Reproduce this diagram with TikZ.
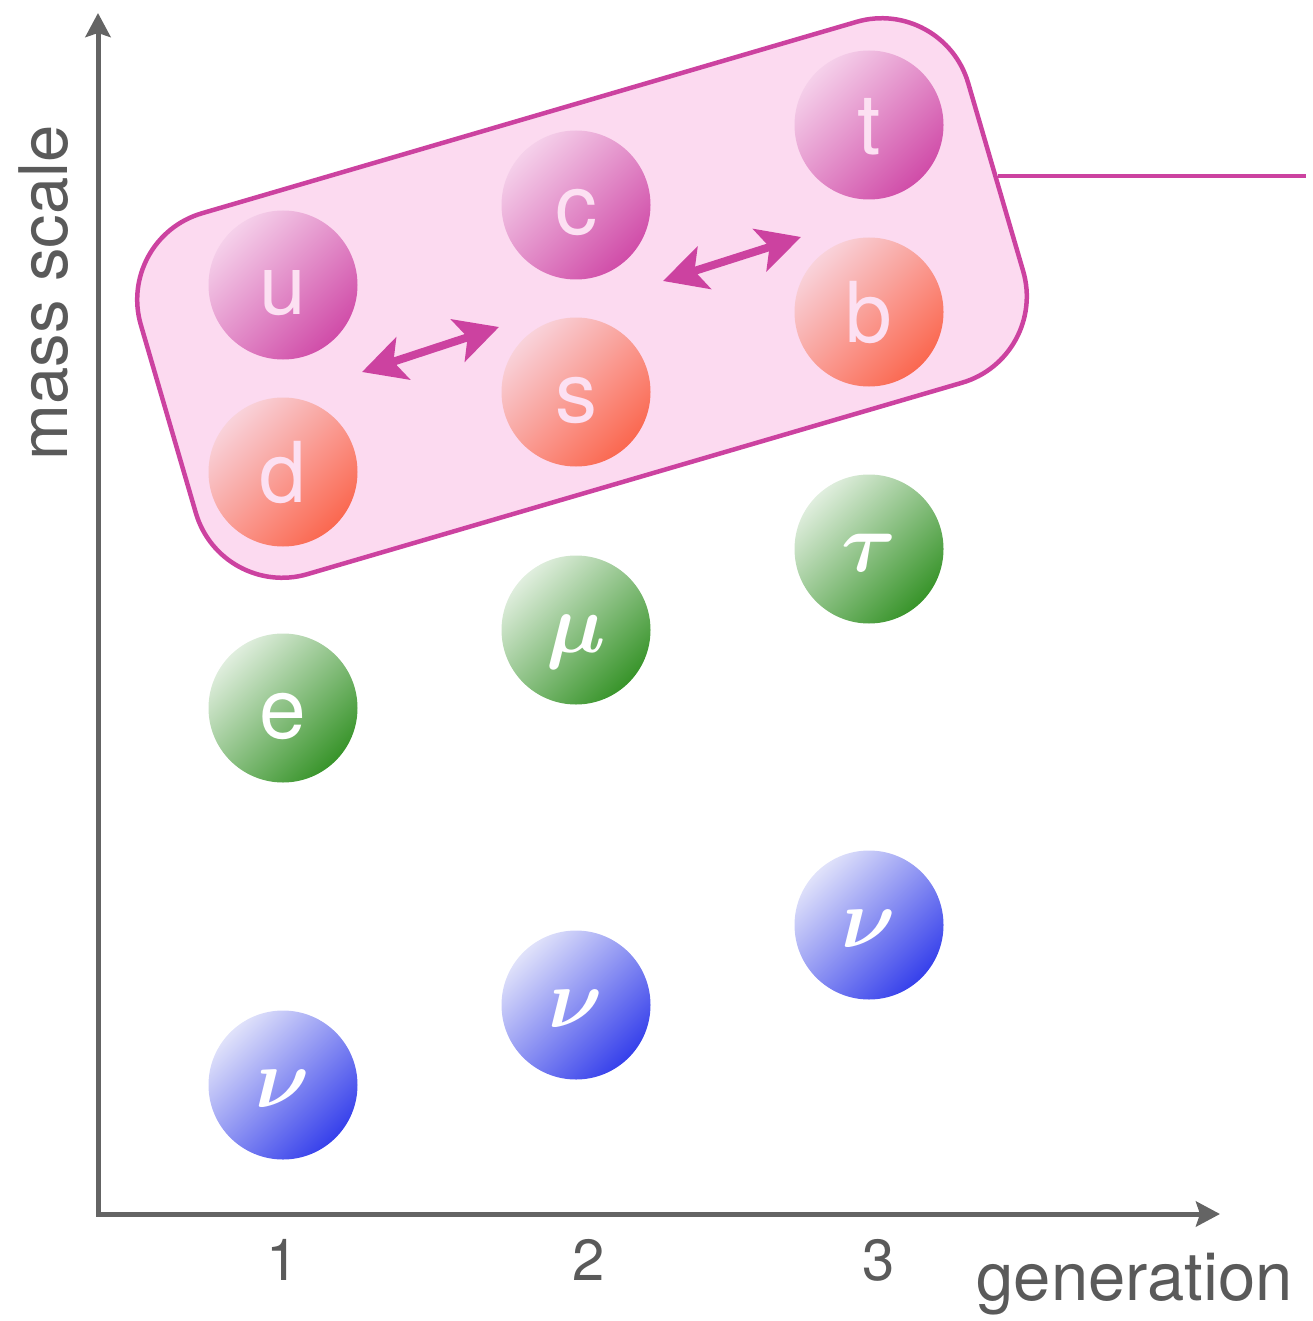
\RequirePackage{fix-cm}
\documentclass[tikz,border=0pt]{standalone}
\usepackage{fontspec}
\setmainfont{TeX Gyre Heros}
\usetikzlibrary{arrows.meta}
\definecolor{mag}{RGB}{204,66,160}
\definecolor{framefill}{RGB}{252,218,240}
\definecolor{axisgray}{RGB}{100,100,100}
\definecolor{textgray}{RGB}{90,90,90}
\definecolor{upl}{RGB}{245,208,234}
\definecolor{upd}{RGB}{208,76,168}
\definecolor{dnl}{RGB}{249,210,218}
\definecolor{dnd}{RGB}{250,104,80}
\definecolor{grl}{RGB}{224,238,222}
\definecolor{grd}{RGB}{56,148,42}
\definecolor{bll}{RGB}{224,226,250}
\definecolor{bld}{RGB}{54,64,235}
\definecolor{qtext}{RGB}{252,224,242}
\begin{document}
\begin{tikzpicture}[x=1pt,y=-1pt,
  ball/.style={circle, minimum size=149pt, inner sep=0pt, text height=60pt, text depth=0pt,
    font=\fontsize{84}{84}\selectfont},
  greek/.style={ball, text=white, text height=44pt, font=\fontsize{84}{84}\selectfont\boldmath},
  upq/.style={ball, text=qtext, top color=upl, bottom color=upd, shading angle=45},
  dnq/.style={ball, text=qtext, top color=dnl, bottom color=dnd, shading angle=45},
  lep/.style={top color=grl, bottom color=grd, shading angle=45},
  neu/.style={greek, top color=bll, bottom color=bld, shading angle=45},
  axis/.style={draw=axisgray, line width=5pt,
    {Stealth[length=24pt,width=25pt,inset=4pt]}-{Stealth[length=24pt,width=25pt,inset=4pt]}},
  dbl/.style={draw=mag, line width=8pt,
    {Stealth[length=43pt,width=44pt,inset=10pt]}-{Stealth[length=43pt,width=44pt,inset=10pt]}},
  axtext/.style={text=textgray, inner sep=0pt},
]
\useasboundingbox (0,0) rectangle (1312,1321);

% axes
\coordinate (O) at (98,1214);
\coordinate (ytip) at (98,13);
\coordinate (xtip) at (1220,1214);
\draw[axis] (ytip) -- (O) -- (xtip);

% frame around quarks
\node[draw=mag, line width=4.5pt, fill=framefill, rounded corners=90pt,
  minimum width=862pt, minimum height=376pt, rotate=16.3, inner sep=0pt] (frame) at (582,298) {};
\coordinate (rend) at (1306,0);
\draw[mag, line width=4pt] (frame.east) -- (frame.east -| rend);

% quarks
\node[upq] (u) at (283,285) {u};
\node[dnq] (d) at (283,472) {d};
\node[upq] (c) at (576,205) {c};
\node[dnq] (s) at (576,392) {s};
\node[upq] (t) at (869,125) {t};
\node[dnq] (b) at (869,312) {b};

% charged leptons
\node[ball, text=white, lep] (e) at (283,708) {e};
\node[greek, lep] (mu) at (576,630) {$\mu$};
\node[greek, lep] (tau) at (869,549) {$\tau$};

% neutrinos
\node[neu] (nu1) at (283,1085) {$\nu$};
\node[neu] (nu2) at (576,1005) {$\nu$};
\node[neu] (nu3) at (869,925) {$\nu$};

% mixing arrows
\coordinate (a1l) at (362,372);
\coordinate (a1r) at (499,327);
\coordinate (a2l) at (663,281);
\coordinate (a2r) at (801,237);
\draw[dbl] (a1l) -- (a1r);
\draw[dbl] (a2l) -- (a2r);

% axis labels
\node[axtext, anchor=base, font=\fontsize{58}{58}\selectfont] (g1) at (283,1280) {1};
\node[axtext, anchor=base, font=\fontsize{58}{58}\selectfont] (g2) at (589,1280) {2};
\node[axtext, anchor=base, font=\fontsize{58}{58}\selectfont] (g3) at (879,1280) {3};
\node[axtext, anchor=base east, font=\fontsize{67}{67}\selectfont] (gen) at (1293,1300) {generation};
\node[axtext, anchor=base, rotate=90, font=\fontsize{67}{67}\selectfont] (mass) at (67,293) {mass scale};
\end{tikzpicture}
\end{document}
